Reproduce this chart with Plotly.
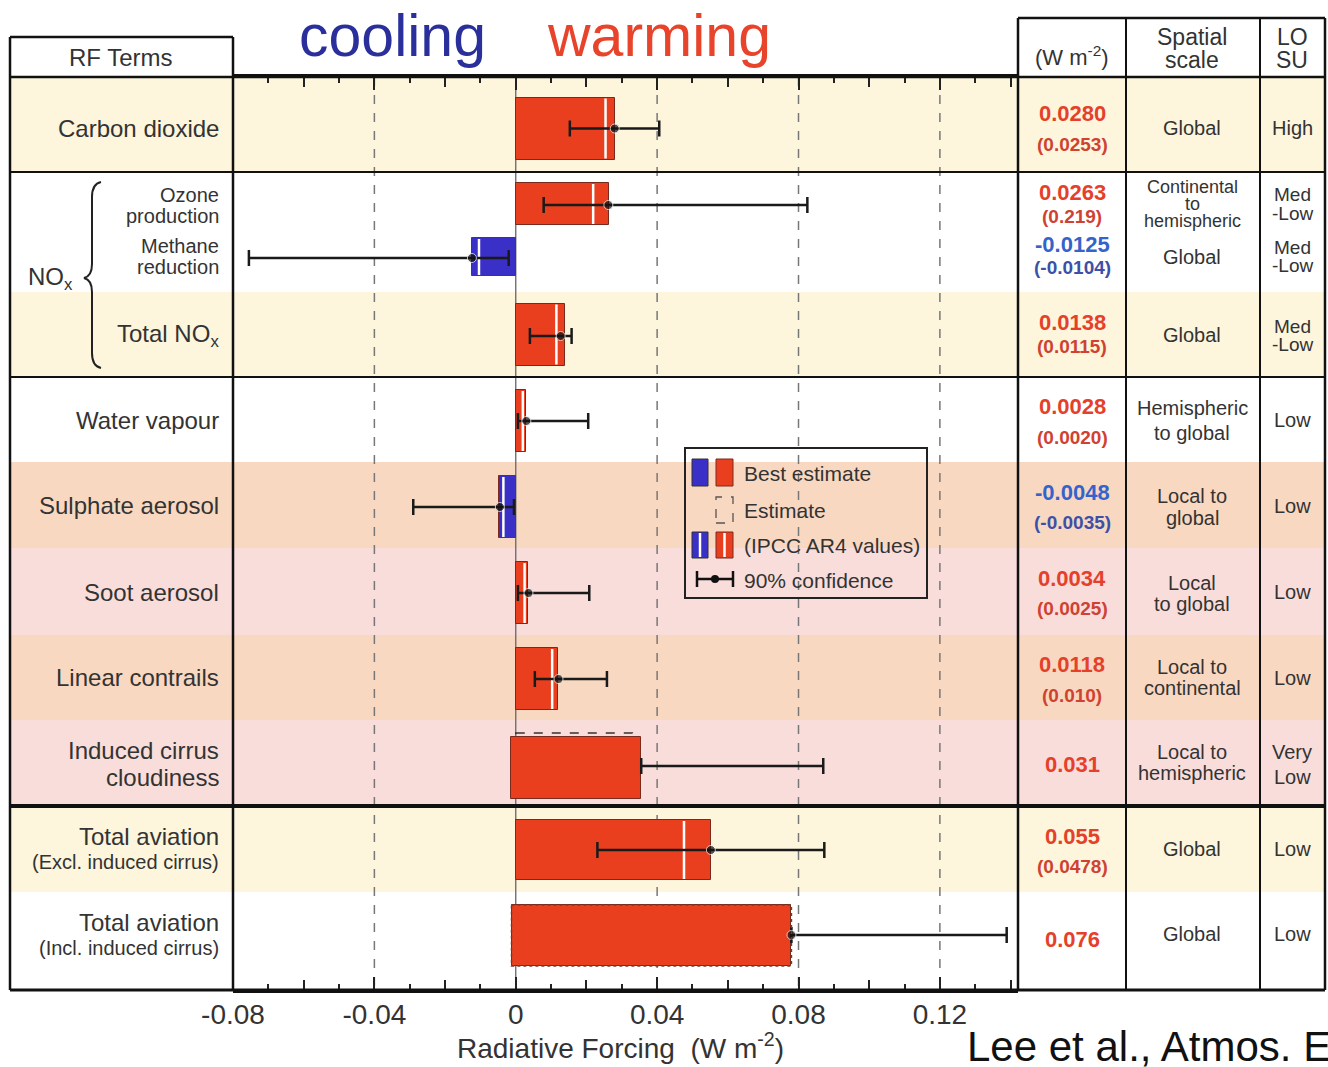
import plotly.graph_objects as go

# ---------------- data ----------------
terms = ["Carbon dioxide", "Ozone production", "Methane reduction", "Total NOx",
         "Water vapour", "Sulphate aerosol", "Soot aerosol", "Linear contrails",
         "Induced cirrus cloudiness", "Total aviation (Excl. induced cirrus)",
         "Total aviation (Incl. induced cirrus)"]
bar_start = [0, 0, 0, 0, 0, 0, 0, 0, -0.0013, 0, -0.0012]
bar_end = [0.0282, 0.0263, -0.0125, 0.0138, 0.0030, -0.0048, 0.0034, 0.0120, 0.0355, 0.0552, 0.0780]
ipcc = [0.0254, 0.0219, -0.0104, 0.0115, 0.0020, -0.0035, 0.0025, 0.0103, None, 0.0476, None]
ci_low = [0.0153, 0.0079, -0.0755, 0.0040, 0.0006, -0.0290, 0.0006, 0.0054, 0.0355, 0.0231, 0.0780]
ci_high = [0.0406, 0.0825, -0.0020, 0.0158, 0.0205, -0.0005, 0.0208, 0.0258, 0.0870, 0.0873, 0.1389]
dot = [0.0280, 0.0262, -0.0124, 0.0127, 0.0030, -0.0045, 0.0036, 0.0121, None, 0.0552, 0.0780]

rf_best_txt = ["0.0280", "0.0263", "-0.0125", "0.0138", "0.0028", "-0.0048", "0.0034",
               "0.0118", "0.031", "0.055", "0.076"]
rf_ipcc_txt = ["(0.0253)", "(0.219)", "(-0.0104)", "(0.0115)", "(0.0020)", "(-0.0035)",
               "(0.0025)", "(0.010)", "", "(0.0478)", ""]
spatial_txt = [["Global"], ["Continental", "to", "hemispheric"], ["Global"], ["Global"],
               ["Hemispheric", "to global"], ["Local to", "global"], ["Local", "to global"],
               ["Local to", "continental"], ["Local to", "hemispheric"], ["Global"], ["Global"]]
losu_txt = [["High"], ["Med", "-Low"], ["Med", "-Low"], ["Med", "-Low"], ["Low"], ["Low"],
            ["Low"], ["Low"], ["Very", "Low"], ["Low"], ["Low"]]
x_tickvals = [-0.08, -0.04, 0, 0.04, 0.08, 0.12]
x_ticktext = ["-0.08", "-0.04", "0", "0.04", "0.08", "0.12"]
grid_dashed = [-0.04, 0.04, 0.08, 0.12]

# ---------------- layout helpers (pixel geometry) ----------------
W, H = 1328, 1067
FONT = "Liberation Sans, Arial, Helvetica, sans-serif"
RED = "#ea3f1e"
BLUE = "#3a2fc6"
YEL = "#fdf5dc"
ORG = "#f9d8c1"
PNK = "#f9dddb"
TXT = "#333333"
XR = [-0.08, 0.1421]


def px(x):
    return x / W


def py(y):
    return 1 - y / H


row_y = [128.5, 204, 257, 334.5, 421, 507, 593, 679, 768, 850, 935.5]
bar_h = [62, 42, 38, 62, 62, 62, 62, 62, 62, 60, 61]
err_y = [128.5, 205, 258, 336, 421, 507, 593, 679, 766, 850, 935]

fig = go.Figure()

# bars
colors = [RED if e >= 0 else BLUE for e in bar_end]
fig.add_trace(go.Bar(
    orientation="h", y=row_y, x=[e - s for s, e in zip(bar_start, bar_end)], base=bar_start,
    width=bar_h, marker=dict(color=colors, line=dict(color="#7a2a1c", width=1)),
    hoverinfo="skip", showlegend=False))

# IPCC AR4 white lines
wx, wy = [], []
for v, c, h in zip(ipcc, row_y, bar_h):
    if v is None:
        continue
    wx += [v, v, None]
    wy += [c - h / 2 + 1, c + h / 2 - 1, None]
fig.add_trace(go.Scatter(x=wx, y=wy, mode="lines", line=dict(color="white", width=2.5),
                         hoverinfo="skip", showlegend=False))

# 90% confidence error bars
cx = [d if d is not None else lo for d, lo in zip(dot, ci_low)]
fig.add_trace(go.Scatter(
    x=cx, y=err_y, mode="markers",
    marker=dict(color="#111", size=[9 if d is not None else 0 for d in dot]),
    error_x=dict(type="data", symmetric=False,
                 array=[hi - c for hi, c in zip(ci_high, cx)],
                 arrayminus=[c - lo for c, lo in zip(cx, ci_low)],
                 color="#1a1a1a", thickness=2.5, width=8),
    hoverinfo="skip", showlegend=False))

# invisible trace to carry the secondary (0.02 tick) axis
fig.add_trace(go.Scatter(x=[0], y=[500], xaxis="x2", mode="markers",
                         marker=dict(opacity=0), hoverinfo="skip", showlegend=False))

shapes = []
# row background bands
bands = [(77, 172, YEL), (172, 292, "white"), (292, 377, YEL), (377, 462, "white"),
         (462, 548, ORG), (548, 635, PNK), (635, 720, ORG), (720, 806, PNK),
         (806, 892, YEL), (892, 990, "white")]
for t, b, col in bands:
    shapes.append(dict(type="rect", xref="paper", yref="paper", x0=px(10), x1=px(1325),
                       y0=py(b), y1=py(t), fillcolor=col, line=dict(width=0), layer="below"))
# grid lines
for g in grid_dashed:
    shapes.append(dict(type="line", xref="x", yref="y", x0=g, x1=g, y0=77, y1=990,
                       line=dict(color="#777", width=1.5, dash="dash"), layer="below"))
shapes.append(dict(type="line", xref="x", yref="y", x0=0, x1=0, y0=77, y1=990,
                   line=dict(color="#666", width=1.3), layer="below"))
# estimate (dashed) outlines
shapes.append(dict(type="rect", xref="x", yref="y", x0=0, x1=0.033, y0=733, y1=797,
                   line=dict(color="#333", width=1.5, dash="dash"), layer="below"))
shapes.append(dict(type="rect", xref="x", yref="y", x0=bar_start[10], x1=bar_end[10],
                   y0=905, y1=966, line=dict(color="#7a3a2a", width=1.5, dash="dot"),
                   layer="above"))


def hline(x0, x1, y, w=2, color="#111"):
    shapes.append(dict(type="line", xref="paper", yref="paper", x0=px(x0), x1=px(x1),
                       y0=py(y), y1=py(y), line=dict(color=color, width=w)))


def vline(x, y0, y1, w=2, color="#111"):
    shapes.append(dict(type="line", xref="paper", yref="paper", x0=px(x), x1=px(x),
                       y0=py(y0), y1=py(y1), line=dict(color=color, width=w)))


# table frame
hline(10, 233, 37, 2.5)
hline(10, 1325, 77, 2.5)
hline(10, 1325, 172, 2)
hline(10, 1325, 377, 2)
hline(10, 1325, 806, 4)
hline(10, 1325, 990, 3)
hline(1018, 1325, 18, 2.5)
vline(10, 37, 990, 2.5)
vline(233, 37, 990, 2.5)
vline(1018, 18, 990, 2.5)
vline(1126, 18, 990, 2)
vline(1260, 18, 990, 2)
vline(1325, 18, 990, 2.5)

# NOx brace
pts = "M {a},{b} Q {c},{d} {c},{e} L {c},{f} Q {c},{g} {h},{i} Q {c},{j} {c},{k} L {c},{l} Q {c},{m} {a},{n}".format(
    a=px(101), b=py(182), c=px(92), d=py(184), e=py(197), f=py(264), g=py(276), h=px(84), i=py(278),
    j=py(280), k=py(292), l=py(353), m=py(366), n=py(368))
shapes.append(dict(type="path", xref="paper", yref="paper", path=pts,
                   line=dict(color="#222", width=2)))

# legend box (drawn)
shapes.append(dict(type="rect", xref="paper", yref="paper", x0=px(685), x1=px(927),
                   y0=py(598), y1=py(448), line=dict(color="#222", width=2)))
shapes.append(dict(type="rect", xref="paper", yref="paper", x0=px(692), x1=px(708),
                   y0=py(486), y1=py(459), fillcolor=BLUE, line=dict(color="#333", width=1)))
shapes.append(dict(type="rect", xref="paper", yref="paper", x0=px(716), x1=px(733),
                   y0=py(486), y1=py(459), fillcolor=RED, line=dict(color="#7a2a1c", width=1)))
shapes.append(dict(type="rect", xref="paper", yref="paper", x0=px(716), x1=px(733),
                   y0=py(523), y1=py(497), line=dict(color="#555", width=1.3, dash="dash")))
shapes.append(dict(type="rect", xref="paper", yref="paper", x0=px(692), x1=px(708),
                   y0=py(558), y1=py(532), fillcolor=BLUE, line=dict(color="#333", width=1)))
shapes.append(dict(type="rect", xref="paper", yref="paper", x0=px(716), x1=px(733),
                   y0=py(558), y1=py(532), fillcolor=RED, line=dict(color="#7a2a1c", width=1)))
vline(700, 533, 557, 2.5, "white")
vline(724.5, 533, 557, 2.5, "white")
hline(697, 733, 579, 2.5)
vline(697, 571, 587, 2.5)
vline(733, 571, 587, 2.5)
shapes.append(dict(type="circle", xref="paper", yref="paper", x0=px(711), x1=px(719),
                   y0=py(583), y1=py(575), fillcolor="#111", line=dict(width=0)))

ann = []


def text(x, y, s, size=20, color=TXT, anchor="center", bold=False):
    if bold:
        s = "<b>" + s + "</b>"
    ann.append(dict(x=px(x), y=py(y), xref="paper", yref="paper", text=s, showarrow=False,
                    xanchor=anchor, yanchor="middle",
                    font=dict(family=FONT, size=size, color=color)))


# titles
text(392, 36, "cooling", 59, "#2a2f9c")
text(659, 36, "warming", 59, "#e8432b")
text(121, 57, "RF Terms", 24)
text(1072, 56, "(W m<sup>-2</sup>)", 22)
text(1192, 37, "Spatial", 23)
text(1192, 60, "scale", 23)
text(1292, 37, "LO", 23)
text(1292, 60, "SU", 23)

# left labels
LX = 221
text(LX, 128, "Carbon dioxide", 24, anchor="right")
text(LX, 195, "Ozone", 20, anchor="right")
text(LX, 216, "production", 20, anchor="right")
text(LX, 246, "Methane", 20, anchor="right")
text(LX, 267, "reduction", 20, anchor="right")
text(50, 278, "NO<sub>x</sub>", 24)
text(LX, 336, "Total NO<sub>x</sub>", 24, anchor="right")
text(LX, 420, "Water vapour", 24, anchor="right")
text(LX, 505, "Sulphate aerosol", 24, anchor="right")
text(LX, 592, "Soot aerosol", 24, anchor="right")
text(LX, 677, "Linear contrails", 24, anchor="right")
text(LX, 750, "Induced cirrus", 24, anchor="right")
text(LX, 777, "cloudiness", 24, anchor="right")
text(LX, 836, "Total aviation", 24, anchor="right")
text(LX, 862, "(Excl. induced cirrus)", 20, anchor="right")
text(LX, 922, "Total aviation", 24, anchor="right")
text(LX, 948, "(Incl. induced cirrus)", 20, anchor="right")

# right table values
best_y = [113, 193, 244, 322, 406, 492, 578, 664, 764, 836, 939]
ipcc_y = [144, 216, 267, 346, 437, 522, 608, 695, None, 866, None]
for i in range(len(terms)):
    neg = rf_best_txt[i].startswith("-")
    c1 = "#3563cc" if neg else "#e5402a"
    c2 = "#3d50a8" if neg else "#cf4231"
    text(1072, best_y[i], rf_best_txt[i], 22, c1, bold=True)
    if rf_ipcc_txt[i]:
        text(1072, ipcc_y[i], rf_ipcc_txt[i], 19, c2, bold=True)

spatial_y = [[128], [187, 204, 221], [257], [335], [408, 433], [496, 518], [583, 604],
             [667, 688], [752, 773], [849], [934]]
losu_y = [[128], [195, 213], [247, 265], [326, 344], [420], [506], [592], [678],
          [752, 777], [849], [934]]
for i in range(len(terms)):
    for s, yy in zip(spatial_txt[i], spatial_y[i]):
        text(1192, yy, s, 20 if len(spatial_txt[i]) < 3 else 18)
    for s, yy in zip(losu_txt[i], losu_y[i]):
        text(1292, yy, s, 19 if losu_txt[i][0] == "Med" else 20)

# legend text
text(742, 473, "Best estimate", 21, anchor="left")
text(742, 510, "Estimate", 21, anchor="left")
text(742, 545, "(IPCC AR4 values)", 21, anchor="left")
text(742, 580, "90% confidence", 21, anchor="left")

# axis title & citation
text(620, 1046, "Radiative Forcing  (W m<sup>-2</sup>)", 28)
text(965, 1046, "Lee et al., Atmos. Environ.", 42, "#111", anchor="left")

fig.update_layout(
    width=W, height=H, margin=dict(l=0, r=0, t=0, b=0, autoexpand=False),
    paper_bgcolor="white", plot_bgcolor="rgba(0,0,0,0)",
    shapes=shapes, annotations=ann, showlegend=False, bargap=0,
    xaxis=dict(domain=[px(233), px(1018)], range=XR,
               tickvals=x_tickvals, ticktext=x_ticktext,
               ticks="inside", ticklen=13, tickwidth=2, tickcolor="#222",
               minor=dict(dtick=0.01, tick0=0, ticks="inside", ticklen=6, tickwidth=2,
                          tickcolor="#222"),
               showline=True, linecolor="#111", linewidth=2.5, mirror="ticks",
               showgrid=False, zeroline=False, ticklabelstandoff=-2, automargin=False,
               tickfont=dict(family=FONT, size=28, color="#333"), fixedrange=True),
    xaxis2=dict(domain=[px(233), px(1018)], range=XR, overlaying="x", anchor="y",
                side="bottom", tick0=0, dtick=0.02, ticks="inside", ticklen=10,
                tickwidth=2, tickcolor="#222", showticklabels=False, mirror="ticks",
                showline=False, showgrid=False, zeroline=False, automargin=False,
                fixedrange=True),
    yaxis=dict(domain=[py(990), py(77)], range=[990, 77], visible=False,
               showgrid=False, zeroline=False, fixedrange=True, automargin=False),
)

fig.write_html("out.html")
